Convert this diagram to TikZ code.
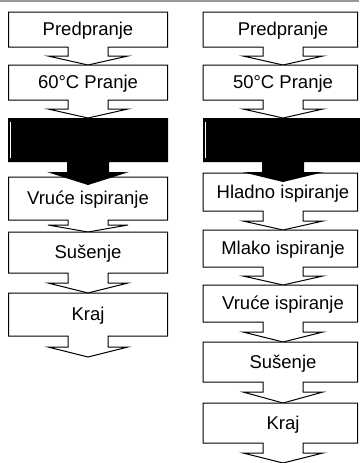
\documentclass[tikz,border=0pt]{standalone}
\usepackage{fontspec}
\setmainfont{Liberation Sans}
\newcommand\flowstep[9]{%
  \draw[stepline] (#1,#4) -- (#2,#4) -- (#2,#5) -- (#3+20,#5) -- (#3+20,#6) -- (#3+40,#6)
    -- (#3,#7) -- (#3-40,#6) -- (#3-20,#6) -- (#3-20,#5) -- (#1,#5) -- cycle;
  \node[lbl] (#8) at (#3,{(#4+#5)/2+6}) {#9};
}
\newcommand\blackstep[8]{%
  \fill[black] (#1,#4) -- (#2,#4) -- (#2,#5) -- (#3+21,#5) -- (#3+21,#6) -- (#3+41,#6)
    -- (#3,#7) -- (#3-41,#6) -- (#3-21,#6) -- (#3-21,#5) -- (#1,#5) -- cycle;
  \coordinate (#8) at (#3,{(#4+#5)/2});
  \draw[artifact] (#1+2,#4+4) -- (#1+2,#5-4);
  \draw[artifact] (#3-39,#6-4) -- (#3-21,#6-6);
  \draw[artifact] (#3-38,#6) -- (#3-21,#6-3);
  \draw[artifact] (#3+39,#6-4) -- (#3+21,#6-6);
  \draw[artifact] (#3+38,#6) -- (#3+21,#6-3);
}
\begin{document}
\begin{tikzpicture}[x=1pt,y=-1pt,
  stepline/.style={draw=black,fill=white,line width=1pt,line join=miter},
  lbl/.style={anchor=base,inner sep=0pt,font=\fontsize{18.5}{22}\selectfont},
  artifact/.style={draw=white,line width=0.7pt}]
\useasboundingbox (0,0) rectangle (359,463);
\fill[white] (0,0) rectangle (359,463);
\draw[black!40,line width=1.5pt] (0,0.75) -- (359,0.75);
% left column
\flowstep{8.5}{167.5}{88}{12}{47}{56}{65}{la}{Predpranje}
\flowstep{8.5}{167.5}{88}{65}{100}{109}{118}{lb}{60°C Pranje}
\flowstep{8.5}{167.5}{88}{177}{220}{225}{232}{ld}{Vruće ispiranje}
\blackstep{8}{168}{88}{118}{162}{172}{185}{lc}
\flowstep{8.5}{167.5}{88}{232}{273}{283}{293}{le}{Sušenje}
\flowstep{8.5}{167.5}{88}{293}{336}{347}{357}{lf}{Kraj}
% right column
\flowstep{203}{357.5}{283}{12}{47}{56}{65}{ra}{Predpranje}
\flowstep{203}{357.5}{283}{65}{100}{109}{118}{rb}{50°C Pranje}
\flowstep{203}{357.5}{283}{173}{211}{221}{230}{rd}{Hladno ispiranje}
\blackstep{203}{360}{283}{118}{162}{172}{182}{rc}
\flowstep{203}{357.5}{283}{230}{267}{276}{285}{re}{Mlako ispiranje}
\flowstep{203}{357.5}{283}{285}{322}{332}{342}{rf}{Vruće ispiranje}
\flowstep{203}{357.5}{283}{342}{382}{392}{403}{rg}{Sušenje}
\flowstep{203}{357.5}{283}{403}{443}{453}{463}{rh}{Kraj}
\end{tikzpicture}
\end{document}
